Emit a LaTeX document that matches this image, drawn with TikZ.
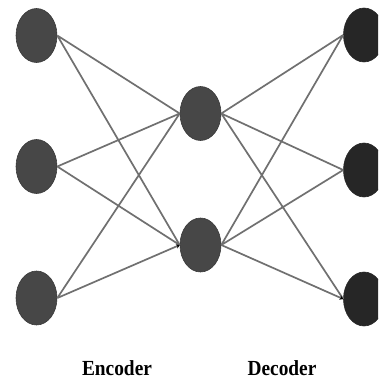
\documentclass[tikz,border=0pt]{standalone}
\usepackage{fontspec}
\setmainfont{Liberation Serif}
\usetikzlibrary{shapes.geometric,arrows.meta}

\definecolor{unitgray}{HTML}{474747}
\definecolor{unitdark}{HTML}{262626}
\definecolor{wiregray}{HTML}{707070}

\tikzset{
  unit/.style={ellipse, fill=unitgray, draw=unitgray!80!black, line width=0.6pt,
    minimum width=41pt, minimum height=54pt, inner sep=0pt},
  outunit/.style={unit, fill=unitdark, draw=unitdark},
  wire/.style={wiregray, line width=1.7pt, -{Stealth[length=3.5pt,width=4.5pt,black]}},
  caption/.style={font=\bfseries\fontsize{21.5}{21.5}\selectfont, xscale=0.9, anchor=base}
}

\newcommand{\wiresIn}[1]{(iO.east) to (#1.west) (iT.east) to (#1.west) (iR.east) to (#1.west)}
\newcommand{\wiresOut}[1]{(hO.east) to (#1.west) (hT.east) to (#1.west)}

\begin{document}
\begin{tikzpicture}[x=1pt, y=-1pt]
        \fill[white] (0,0) rectangle (378,379);
        \clip (0,0) rectangle (378,379);
        % input layer
        \node[unit] (iO) at (36.5, 35.5) {};
        \node[unit] (iT) at (36.5, 166.5) {};
        \node[unit] (iR) at (36.5, 298) {};
        % code layer
        \node[unit] (hO) at (200.5, 113.5) {};
        \node[unit] (hT) at (200.5, 245) {};
        % output layer
        \node[outunit] (oO) at (364, 35) {};
        \node[outunit] (oT) at (364, 170) {};
        \node[outunit] (oR) at (364, 299) {};

        \draw[wire] \wiresIn{hO} \wiresIn{hT};
        \draw[wire] \wiresOut{oO} \wiresOut{oT} \wiresOut{oR};

        \node[caption] (enc) at (117, 375) {Encoder};
        \node[caption] (dec) at (282, 375) {Decoder};
    \end{tikzpicture}
\end{document}
